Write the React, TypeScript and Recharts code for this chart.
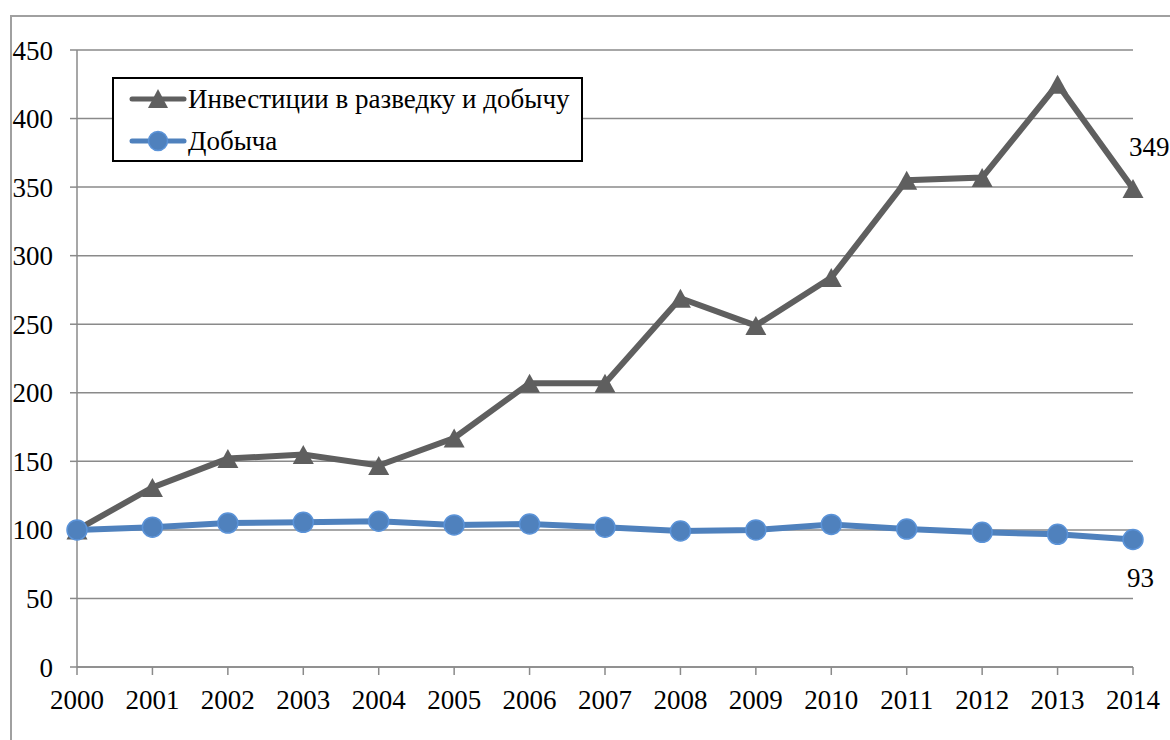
import React from "react";
import { LineChart, Line, XAxis, YAxis, CartesianGrid, LabelList } from "recharts";

const years = ["2000", "2001", "2002", "2003", "2004", "2005", "2006", "2007", "2008", "2009", "2010", "2011", "2012", "2013", "2014"];
const investments = [100, 131, 152, 155, 147, 167, 207, 207, 269, 249, 284, 355, 357, 425, 349];
const production = [100, 102, 105, 105.5, 106.3, 103.6, 104.3, 102, 99.2, 100, 104, 100.6, 98.2, 96.8, 93];
const yTicks = [0, 50, 100, 150, 200, 250, 300, 350, 400, 450];
const seriesNames = ["Инвестиции в разведку и добычу", "Добыча"];

const data = years.map((y, i) => ({ year: y, inv: investments[i], prod: production[i] }));

const GRAY = "#5f5f5f";
const BLUE = "#4f81bd";
const BLUE_EDGE = "#5b93d8";
const GRID = "#8a8a8a";
const FONT = "Liberation Serif, Times New Roman, serif";

function Tri({ cx, cy }: { cx: number; cy: number }) {
  const w = 21, h = 19;
  return (
    <polygon
      points={`${cx},${cy - h / 2} ${cx + w / 2},${cy + h / 2} ${cx - w / 2},${cy + h / 2}`}
      fill={GRAY}
    />
  );
}

function LastLabel(props: any, dx: number, dy: number) {
  const { x, y, value, index } = props;
  if (index !== years.length - 1) return null;
  return (
    <text x={x + dx} y={y + dy} fontSize={27} fontFamily={FONT} fill="#000" dominantBaseline="central">
      {value}
    </text>
  );
}

function LegendBox() {
  return (
    <div
      style={{
        position: "absolute",
        left: 112,
        top: 77,
        width: 467,
        height: 81,
        border: "2px solid #000",
        background: "#fff",
        fontFamily: FONT,
        fontSize: 27,
      }}
    >
      {seriesNames.map((name, i) => (
        <div key={name} style={{ position: "absolute", left: 15, top: i === 0 ? 5 : 47, height: 30, display: "flex", alignItems: "center" }}>
          <svg width={59} height={30}>
            <line x1={3} y1={15} x2={55} y2={15} stroke={i === 0 ? GRAY : BLUE} strokeWidth={5} strokeLinecap="round" />
            {i === 0 ? (
              <polygon points="29,5 39,24 19,24" fill={GRAY} />
            ) : (
              <circle cx={29} cy={15} r={9.5} fill={BLUE} stroke={BLUE_EDGE} strokeWidth={1.5} />
            )}
          </svg>
          <span style={{ whiteSpace: "nowrap", lineHeight: "30px" }}>{name}</span>
        </div>
      ))}
    </div>
  );
}

export default function App() {
  return (
    <div style={{ position: "absolute", left: 0, top: 0, width: 1170, height: 740, background: "#fff", overflow: "hidden" }}>
      <div style={{ position: "absolute", left: 10, top: 15, width: 1200, height: 800, borderLeft: "2px solid #a0a0a0", borderTop: "2px solid #a0a0a0" }} />
      <LineChart
        width={1170}
        height={740}
        data={data}
        margin={{ top: 50, right: 37, left: 10, bottom: 33 }}
        style={{ position: "absolute", left: 0, top: 0 }}
      >
        <CartesianGrid vertical={false} stroke={GRID} strokeWidth={1.5} />
        <XAxis
          dataKey="year"
          height={40}
          tickSize={8}
          tickMargin={15}
          interval={0}
          stroke={GRID}
          axisLine={{ stroke: GRID, strokeWidth: 1.5 }}
          tickLine={{ stroke: GRID, strokeWidth: 1.5 }}
          tick={{ fontSize: 27, fontFamily: FONT, fill: "#000" }}
        />
        <YAxis
          width={67}
          domain={[0, 450]}
          ticks={yTicks}
          tickSize={7}
          tickMargin={17}
          interval={0}
          axisLine={{ stroke: GRID, strokeWidth: 1.5 }}
          tickLine={{ stroke: GRID, strokeWidth: 1.5 }}
          tick={{ fontSize: 27, fontFamily: FONT, fill: "#000" }}
        />
        <Line
          type="linear"
          dataKey="inv"
          stroke={GRAY}
          strokeWidth={6}
          isAnimationActive={false}
          dot={(p: any) => <Tri key={`t${p.index}`} cx={p.cx} cy={p.cy} />}
          activeDot={false}
        >
          <LabelList dataKey="inv" content={(p: any) => LastLabel(p, -4, -41)} />
        </Line>
        <Line
          type="linear"
          dataKey="prod"
          stroke={BLUE}
          strokeWidth={6}
          isAnimationActive={false}
          dot={{ r: 10, fill: BLUE, stroke: BLUE_EDGE, strokeWidth: 1.5 }}
          activeDot={false}
        >
          <LabelList dataKey="prod" content={(p: any) => LastLabel(p, -6, 39)} />
        </Line>
      </LineChart>
      <LegendBox />
    </div>
  );
}
